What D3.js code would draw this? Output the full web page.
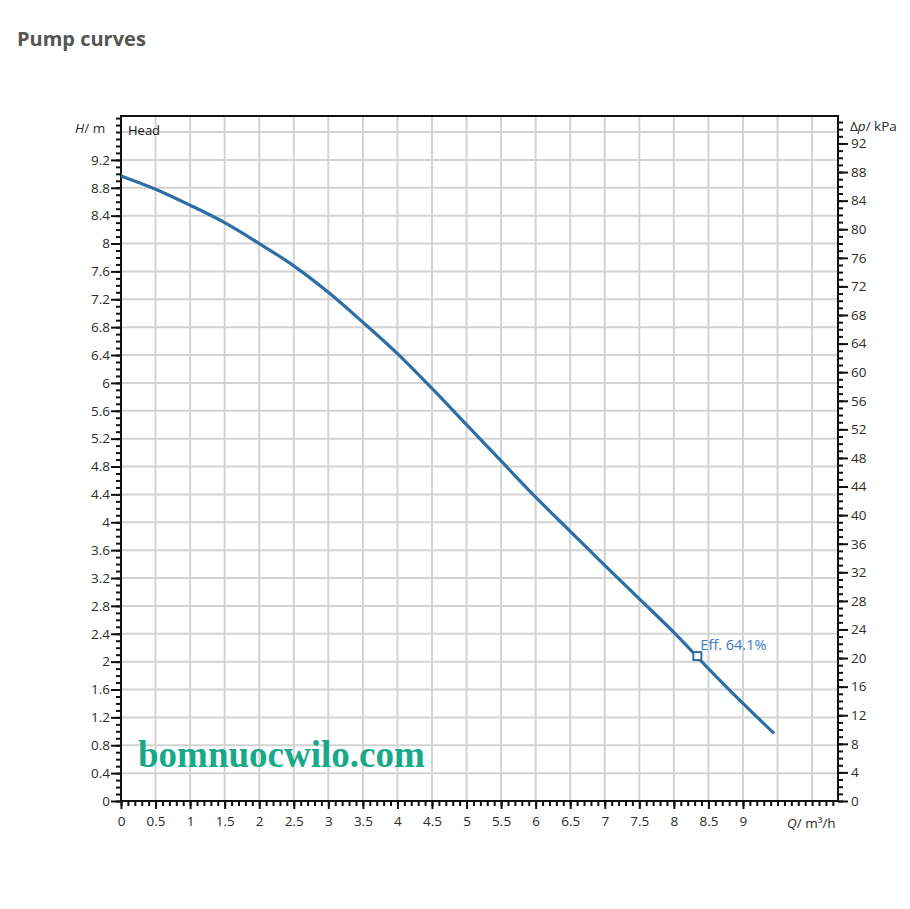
<!DOCTYPE html>
<html>
<head>
<meta charset="utf-8">
<script src="https://cdn.jsdelivr.net/npm/d3@7"></script>
<style>
  body { margin: 0; background: #fff; }
  text { font-family: "Open Sans", "Noto Sans", sans-serif; }
</style>
</head>
<body>
<div id="chart"></div>
<script>
let w = 910;
let h = 909;

// head curve, Q in m3/h, H in m
let flow = [0, 0.5, 1, 1.5, 2, 2.5, 3, 3.5, 4, 4.5, 5, 5.5, 6, 6.5, 7, 7.5, 8, 8.5, 9, 9.45];
let head = [8.97, 8.78, 8.55, 8.3, 8.0, 7.68, 7.3, 6.87, 6.42, 5.92, 5.4, 4.88, 4.36, 3.87, 3.38, 2.9, 2.42, 1.9, 1.4, 0.97];

let effPoint = [8.34, 2.08];
let effLabel = "Eff. 64.1%";

let xTicks = [0, 0.5, 1, 1.5, 2, 2.5, 3, 3.5, 4, 4.5, 5, 5.5, 6, 6.5, 7, 7.5, 8, 8.5, 9];
let yTicks = [0, 0.4, 0.8, 1.2, 1.6, 2, 2.4, 2.8, 3.2, 3.6, 4, 4.4, 4.8, 5.2, 5.6, 6, 6.4, 6.8, 7.2, 7.6, 8, 8.4, 8.8, 9.2];
let kpaTicks = [0, 4, 8, 12, 16, 20, 24, 28, 32, 36, 40, 44, 48, 52, 56, 60, 64, 68, 72, 76, 80, 84, 88, 92];

let pLeft = 121, pRight = 838, pTop = 116, pBottom = 801;
let xMax = 10.375, yMax = 9.83;
let kpaPerM = 9.75;

let svg = d3.select("#chart").append("svg")
    .attr("width", w)
    .attr("height", h);

let x = d3.scaleLinear().domain([0, xMax]).range([pLeft, pRight]);
let y = d3.scaleLinear().domain([0, yMax]).range([pBottom, pTop]);
let yk = d3.scaleLinear().domain([0, yMax * kpaPerM]).range([pBottom, pTop]);

// title
svg.append("text")
    .attr("x", 17)
    .attr("y", 46)
    .attr("font-size", 20)
    .attr("font-weight", "bold")
    .attr("fill", "#555")
    .text("Pump curves");

// grid
let gridX = d3.range(0.5, 10.01, 0.5);
let gridY = d3.range(0.4, 9.61, 0.4);
svg.append("g").selectAll("line").data(gridX).enter().append("line")
    .attr("x1", d => x(d)).attr("x2", d => x(d))
    .attr("y1", pTop).attr("y2", pBottom)
    .attr("stroke", "#d3d3d3").attr("stroke-width", 2);
svg.append("g").selectAll("line").data(gridY).enter().append("line")
    .attr("x1", pLeft).attr("x2", pRight)
    .attr("y1", d => y(d)).attr("y2", d => y(d))
    .attr("stroke", "#d3d3d3").attr("stroke-width", 2);

// watermark
svg.append("text")
    .attr("x", 138)
    .attr("y", 767)
    .style("font-family", "'Liberation Serif', serif")
    .attr("font-weight", "bold")
    .attr("font-size", 37)
    .attr("fill", "#17a98a")
    .text("bomnuocwilo.com");

// axes
let fmt = d => String(d);
svg.append("g").attr("transform", "translate(" + pLeft + ",0)")
    .call(d3.axisLeft(y).tickValues(yTicks).tickFormat(fmt).tickSize(10).tickPadding(1));
svg.append("g").attr("transform", "translate(" + pLeft + ",0)")
    .call(d3.axisLeft(y).tickValues(d3.range(0, 9.81, 0.1)).tickFormat("").tickSize(5));

svg.append("g").attr("transform", "translate(" + pRight + ",0)")
    .call(d3.axisRight(yk).tickValues(kpaTicks).tickFormat(fmt).tickSize(10).tickPadding(3));
svg.append("g").attr("transform", "translate(" + pRight + ",0)")
    .call(d3.axisRight(yk).tickValues(d3.range(0, 95.1, 1)).tickFormat("").tickSize(5));

svg.append("g").attr("transform", "translate(0," + pBottom + ")")
    .call(d3.axisBottom(x).tickValues(xTicks).tickFormat(fmt).tickSize(8).tickPadding(7));
svg.append("g").attr("transform", "translate(0," + pBottom + ")")
    .call(d3.axisBottom(x).tickValues(d3.range(0, 10.31, 0.1)).tickFormat("").tickSize(5));

svg.selectAll(".domain").remove();
svg.selectAll(".tick line").attr("stroke", "#111").attr("stroke-width", 2);
svg.selectAll(".tick text").attr("font-size", 13.5).attr("fill", "#2b2b2b");

// frame
svg.append("rect")
    .attr("x", pLeft).attr("y", pTop)
    .attr("width", pRight - pLeft).attr("height", pBottom - pTop)
    .attr("fill", "none").attr("stroke", "#111").attr("stroke-width", 2);

// axis titles
svg.append("text").attr("x", 75).attr("y", 133).attr("font-size", 13.5).attr("fill", "#2b2b2b")
    .html('<tspan font-style="italic">H</tspan>/ m');

svg.append("text").attr("x", 128).attr("y", 135).attr("font-size", 13).attr("fill", "#111").text("Head");

svg.append("text").attr("x", 850).attr("y", 131).attr("font-size", 13.5).attr("fill", "#2b2b2b")
    .html('Δ<tspan font-style="italic">p</tspan>/ kPa');

svg.append("text").attr("x", 787).attr("y", 828).attr("font-size", 13.5).attr("fill", "#2b2b2b")
    .html('<tspan font-style="italic">Q</tspan>/ m³/h');

// curve
let pts = flow.map((q, i) => [q, head[i]]);
let line = d3.line().x(d => x(d[0])).y(d => y(d[1])).curve(d3.curveCatmullRom);
svg.append("path")
    .attr("d", line(pts))
    .attr("fill", "none")
    .attr("stroke", "#2d6ea6")
    .attr("stroke-width", 3.2);

// efficiency point
svg.append("rect")
    .attr("x", x(effPoint[0]) - 4).attr("y", y(effPoint[1]) - 4)
    .attr("width", 8).attr("height", 8)
    .attr("fill", "#fff").attr("stroke", "#2d6ea6").attr("stroke-width", 2);
svg.append("text")
    .attr("x", x(effPoint[0]) + 3).attr("y", y(effPoint[1]) - 6)
    .attr("font-size", 14.5).attr("fill", "#3b7dbd")
    .text(effLabel);
</script>
</body>
</html>
